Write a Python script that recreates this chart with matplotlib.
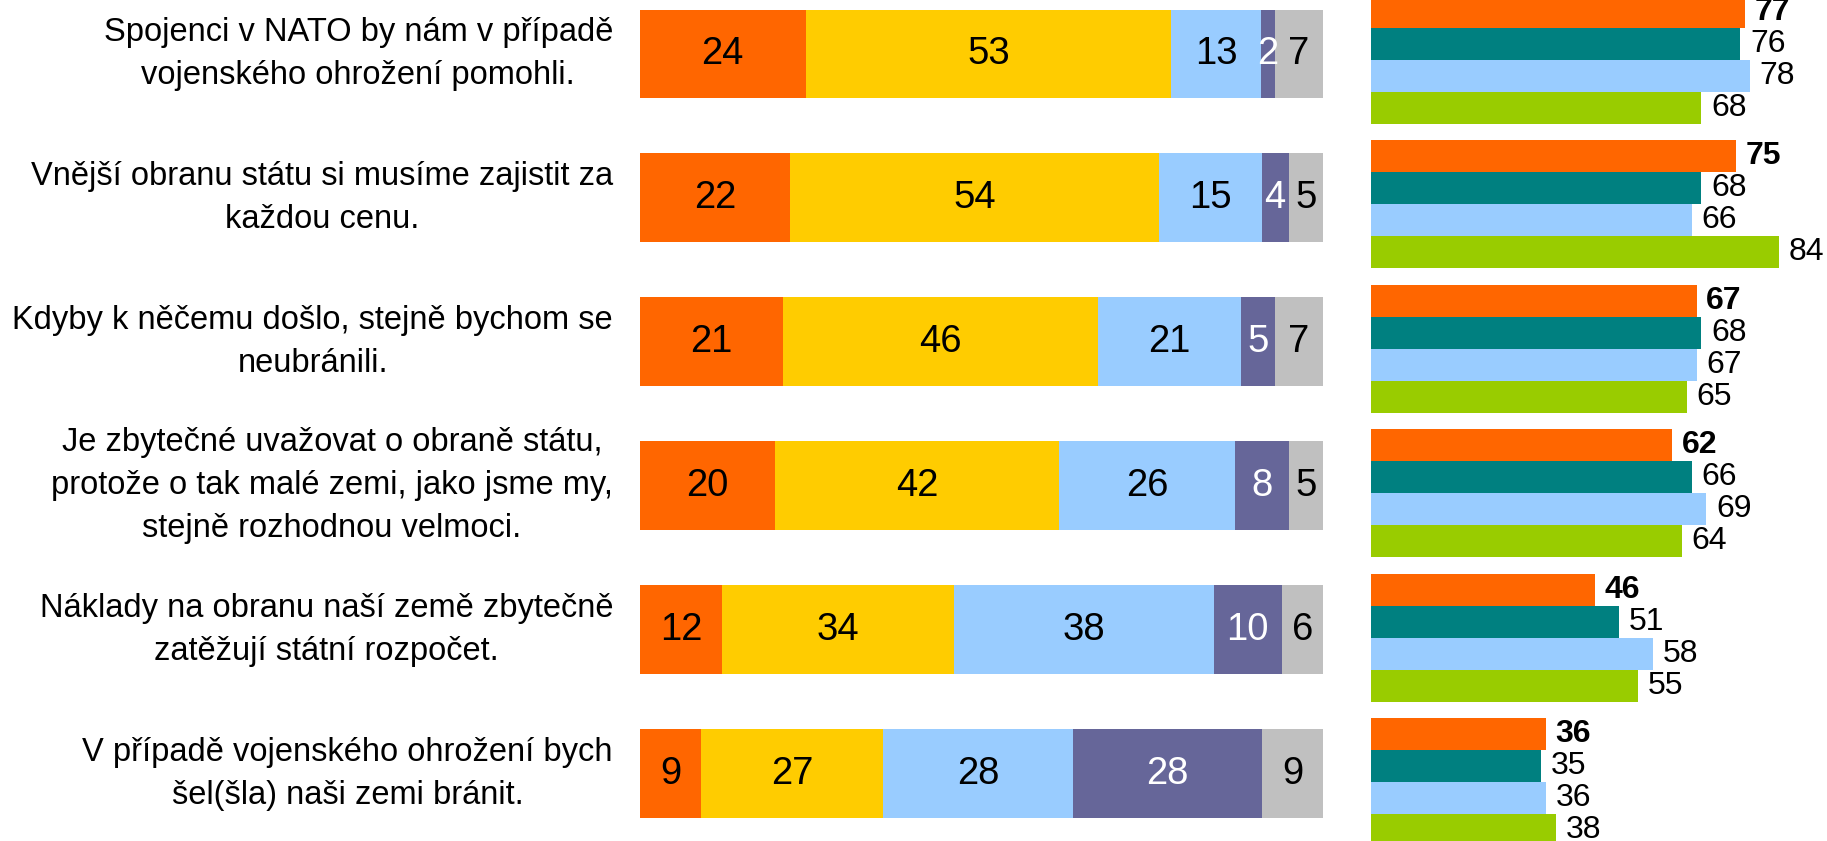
import matplotlib
matplotlib.use('Agg')
from matplotlib import pyplot as plt
from matplotlib import transforms
import numpy as np

plt.rcParams['font.family'] = ['Liberation Sans', 'DejaVu Sans']

statements = [
    'Spojenci v NATO by nám v případě\nvojenského ohrožení pomohli.',
    'Vnější obranu státu si musíme zajistit za\nkaždou cenu.',
    'Kdyby k něčemu došlo, stejně bychom se\nneubránili.',
    'Je zbytečné uvažovat o obraně státu,\nprotože o tak malé zemi, jako jsme my,\nstejně rozhodnou velmoci.',
    'Náklady na obranu naší země zbytečně\nzatěžují státní rozpočet.',
    'V případě vojenského ohrožení bych\nšel(šla) naši zemi bránit.',
]

# answer shares, left stacked bars
definitely_yes = [24, 22, 21, 20, 12, 9]
rather_yes = [53, 54, 46, 42, 34, 27]
rather_no = [13, 15, 21, 26, 38, 28]
definitely_no = [2, 4, 5, 8, 10, 28]
dont_know = [7, 5, 7, 5, 6, 9]

# agreement over four survey waves, right grouped bars
wave_1 = [77, 75, 67, 62, 46, 36]
wave_2 = [76, 68, 68, 66, 51, 35]
wave_3 = [78, 66, 67, 69, 58, 36]
wave_4 = [68, 84, 65, 64, 55, 38]

STACK_COLORS = ['#FF6600', '#FFCC00', '#99CCFF', '#666699', '#C0C0C0']
STACK_TEXT = ['black', 'black', 'black', 'white', 'black']
WAVE_COLORS = ['#FF6600', '#008080', '#99CCFF', '#99CC00']

W, H = 1827, 841
fig = plt.figure(figsize=(W / 100, H / 100), dpi=100)

# stacked 100% bars
ax1 = fig.add_axes([640 / W, 0, 683 / W, 1])
stack = np.array([definitely_yes, rather_yes, rather_no, definitely_no, dont_know], dtype=float)
totals = stack.sum(axis=0)
rows = np.arange(len(statements))
left = np.zeros(len(statements))
for k, part in enumerate(stack):
    share = part / totals
    ax1.barh(rows, share, left=left, height=0.618, color=STACK_COLORS[k], linewidth=0)
    for i in rows:
        ax1.text(left[i] + share[i] / 2, i, '%d' % part[i], ha='center', va='center',
                 fontsize=27.5, color=STACK_TEXT[k])
    left += share
ax1.set_xlim(0, 1)
ax1.set_ylim((H - 54) / 143.9, -54 / 143.9)
ax1.axis('off')

label_tr = transforms.blended_transform_factory(ax1.transAxes, ax1.transData)
for i, s in enumerate(statements):
    ax1.text(-27 / 683, i, s, transform=label_tr, ha='right', va='center',
             multialignment='center', fontsize=23.5, linespacing=1.5)

# grouped bars per wave
ax2 = fig.add_axes([1371 / W, 0, (W - 1371) / W, 1])
waves = [wave_1, wave_2, wave_3, wave_4]
bh = 32 / 144.5
for k, vals in enumerate(waves):
    y = rows + (k - 1.5) * bh
    ax2.barh(y, vals, height=bh, color=WAVE_COLORS[k], linewidth=0)
    for yi, v in zip(y, vals):
        ax2.annotate('%d' % v, (v, yi), xytext=(7, 0), textcoords='offset points',
                     ha='left', va='center', fontsize=23,
                     fontweight='bold' if k == 0 else 'normal')
ax2.set_xlim(0, (W - 1371) / 4.86)
ax2.set_ylim((H - 59.5) / 144.5, -59.5 / 144.5)
ax2.axis('off')

fig.savefig('out.png', dpi=100)
